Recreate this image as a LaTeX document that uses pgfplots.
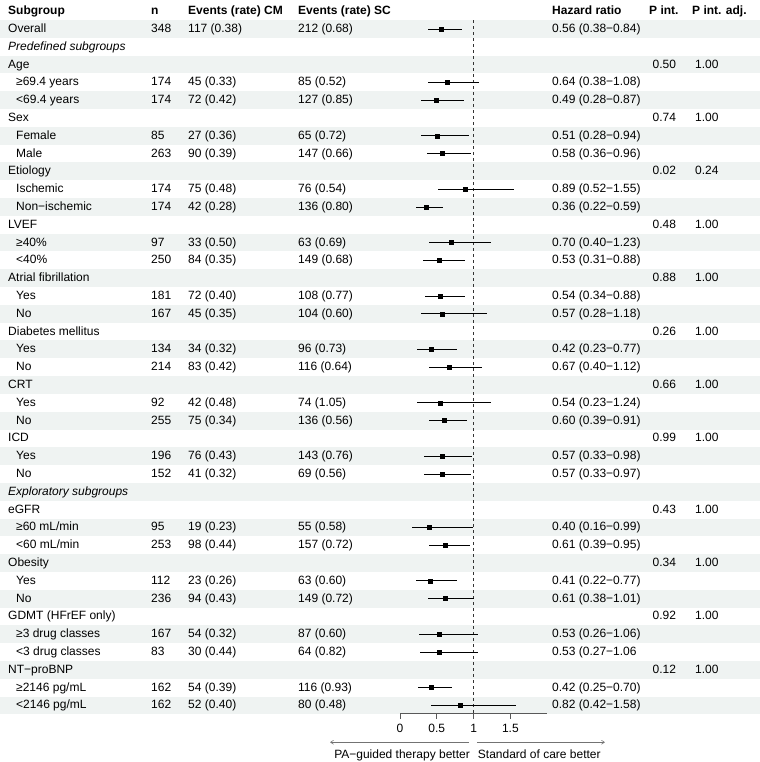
\documentclass[border=0pt]{standalone}
\usepackage{pgfplots}
\pgfplotsset{compat=1.18}
\usepackage{pgfplotstable}
\usepackage{fontspec}
\setmainfont{Liberation Sans}
\usetikzlibrary{arrows.meta}
\definecolor{bgc}{HTML}{EFF3F2}

\pgfplotstableread{
k hr lo hi
1 0.56 0.38 0.84
4 0.64 0.38 1.08
5 0.49 0.28 0.87
7 0.51 0.28 0.94
8 0.58 0.36 0.96
10 0.89 0.52 1.55
11 0.36 0.22 0.59
13 0.70 0.40 1.23
14 0.53 0.31 0.88
16 0.54 0.34 0.88
17 0.57 0.28 1.18
19 0.42 0.23 0.77
20 0.67 0.40 1.12
22 0.54 0.23 1.24
23 0.60 0.39 0.91
25 0.57 0.33 0.98
26 0.57 0.33 0.97
29 0.40 0.16 0.99
30 0.61 0.39 0.95
32 0.41 0.22 0.77
33 0.61 0.38 1.01
35 0.53 0.26 1.06
36 0.53 0.27 1.06
38 0.42 0.25 0.70
39 0.82 0.42 1.58
}\forestdata

\newcommand{\xS}{-5.326}
\newcommand{\xI}{-5.217}
\newcommand{\xN}{-3.383}
\newcommand{\xC}{-2.880}
\newcommand{\xSC}{-1.386}
\newcommand{\xH}{2.065}
\newcommand{\xPh}{3.383}
\newcommand{\xP}{3.431}
\newcommand{\xAh}{3.967}
\newcommand{\xA}{4.008}

\tikzset{txt/.style={anchor=base west, inner sep=0pt, font=\fontsize{12}{14}\selectfont, yshift=-3.5pt, text=black}}

% data row: k, label, n, cm, sc, hr
\newcommand{\drow}[6]{%
  \node[txt] at (axis cs:\xI,#1) {#2};%
  \node[txt] at (axis cs:\xN,#1) {#3};%
  \node[txt] at (axis cs:\xC,#1) {#4};%
  \node[txt] at (axis cs:\xSC,#1) {#5};%
  \node[txt] at (axis cs:\xH,#1) {#6};%
}
% group row: k, label, p, padj
\newcommand{\grow}[4]{%
  \node[txt] at (axis cs:\xS,#1) {#2};%
  \node[txt] at (axis cs:\xP,#1) {#3};%
  \node[txt] at (axis cs:\xA,#1) {#4};%
}

\begin{document}
\begin{tikzpicture}
\begin{axis}[
  scale only axis, width=760pt, height=762pt,
  xmin=-5.4348, xmax=4.8913, ymin=-0.629, ymax=42.18,
  y dir=reverse, hide axis, clip=false]

% row shading
\pgfplotsinvokeforeach{1,3,...,39}{%
  \fill[bgc] ([yshift=8.9pt]axis cs:-5.4348,#1) rectangle ([yshift=-8.9pt]axis cs:4.8913,#1);
}

% reference line
\draw[black!80, line width=0.75pt, dash pattern=on 3pt off 3pt] (axis cs:1,0.5) -- (axis cs:1,39.44);

% x axis
\draw[black!65, line width=0.75pt] (axis cs:0,39.44) -- (axis cs:2,39.44);
\pgfplotsinvokeforeach{0,0.5,1,1.5}{%
  \draw[black!65, line width=0.75pt] (axis cs:#1,39.44) -- ([yshift=-6pt]axis cs:#1,39.44);
  \node[anchor=base, inner sep=0pt, font=\fontsize{12}{14}\selectfont] at (axis cs:#1,40.55) {#1};
}

% arrows
\draw[black!55, line width=0.6pt, -{Straight Barb[length=3pt,width=4pt]}] (axis cs:0.9375,41.07) -- (axis cs:-0.951,41.07);
\draw[black!55, line width=0.6pt, -{Straight Barb[length=3pt,width=4pt]}] (axis cs:1.046,41.07) -- (axis cs:2.785,41.07);
\node[anchor=base east, inner sep=0pt, font=\fontsize{12}{14}\selectfont] at (axis cs:0.951,41.97) {PA−guided therapy better};
\node[anchor=base west, inner sep=0pt, font=\fontsize{12}{14}\selectfont] at (axis cs:1.056,41.97) {Standard of care better};

% CI and points
\addplot[only marks, mark=square*, mark size=2pt, black,
  error bars/.cd, x dir=both, x explicit, error mark=none,
  error bar style={line width=0.8pt, black}]
  table[x=hr, y=k, x error plus expr=\thisrow{hi}-\thisrow{hr}, x error minus expr=\thisrow{hr}-\thisrow{lo}] {\forestdata};

% header
\node[txt, font=\fontsize{12}{14}\selectfont\bfseries] at (axis cs:\xS,0) {Subgroup};
\node[txt, font=\fontsize{12}{14}\selectfont\bfseries] at (axis cs:\xN,0) {n};
\node[txt, font=\fontsize{12}{14}\selectfont\bfseries] at (axis cs:\xC,0) {Events (rate) CM};
\node[txt, font=\fontsize{12}{14}\selectfont\bfseries] at (axis cs:\xSC,0) {Events (rate) SC};
\node[txt, font=\fontsize{12}{14}\selectfont\bfseries] at (axis cs:\xH,0) {Hazard ratio};
\node[txt, font=\fontsize{12}{14}\selectfont\bfseries] at (axis cs:\xPh,0) {P int.};
\node[txt, font=\fontsize{12}{14}\selectfont\bfseries] at (axis cs:\xAh,0) {P int. adj.};

% overall
\node[txt] at (axis cs:\xS,1) {Overall};
\node[txt] at (axis cs:\xN,1) {348};
\node[txt] at (axis cs:\xC,1) {117 (0.38)};
\node[txt] at (axis cs:\xSC,1) {212 (0.68)};
\node[txt] at (axis cs:\xH,1) {0.56 (0.38−0.84)};

\node[txt, font=\fontsize{12}{14}\selectfont\itshape] at (axis cs:\xS,2) {Predefined subgroups};
\grow{3}{Age}{0.50}{1.00}
\drow{4}{≥69.4 years}{174}{45 (0.33)}{85 (0.52)}{0.64 (0.38−1.08)}
\drow{5}{<69.4 years}{174}{72 (0.42)}{127 (0.85)}{0.49 (0.28−0.87)}
\grow{6}{Sex}{0.74}{1.00}
\drow{7}{Female}{85}{27 (0.36)}{65 (0.72)}{0.51 (0.28−0.94)}
\drow{8}{Male}{263}{90 (0.39)}{147 (0.66)}{0.58 (0.36−0.96)}
\grow{9}{Etiology}{0.02}{0.24}
\drow{10}{Ischemic}{174}{75 (0.48)}{76 (0.54)}{0.89 (0.52−1.55)}
\drow{11}{Non−ischemic}{174}{42 (0.28)}{136 (0.80)}{0.36 (0.22−0.59)}
\grow{12}{LVEF}{0.48}{1.00}
\drow{13}{≥40\%}{97}{33 (0.50)}{63 (0.69)}{0.70 (0.40−1.23)}
\drow{14}{<40\%}{250}{84 (0.35)}{149 (0.68)}{0.53 (0.31−0.88)}
\grow{15}{Atrial fibrillation}{0.88}{1.00}
\drow{16}{Yes}{181}{72 (0.40)}{108 (0.77)}{0.54 (0.34−0.88)}
\drow{17}{No}{167}{45 (0.35)}{104 (0.60)}{0.57 (0.28−1.18)}
\grow{18}{Diabetes mellitus}{0.26}{1.00}
\drow{19}{Yes}{134}{34 (0.32)}{96 (0.73)}{0.42 (0.23−0.77)}
\drow{20}{No}{214}{83 (0.42)}{116 (0.64)}{0.67 (0.40−1.12)}
\grow{21}{CRT}{0.66}{1.00}
\drow{22}{Yes}{92}{42 (0.48)}{74 (1.05)}{0.54 (0.23−1.24)}
\drow{23}{No}{255}{75 (0.34)}{136 (0.56)}{0.60 (0.39−0.91)}
\grow{24}{ICD}{0.99}{1.00}
\drow{25}{Yes}{196}{76 (0.43)}{143 (0.76)}{0.57 (0.33−0.98)}
\drow{26}{No}{152}{41 (0.32)}{69 (0.56)}{0.57 (0.33−0.97)}
\node[txt, font=\fontsize{12}{14}\selectfont\itshape] at (axis cs:\xS,27) {Exploratory subgroups};
\grow{28}{eGFR}{0.43}{1.00}
\drow{29}{≥60 mL/min}{95}{19 (0.23)}{55 (0.58)}{0.40 (0.16−0.99)}
\drow{30}{<60 mL/min}{253}{98 (0.44)}{157 (0.72)}{0.61 (0.39−0.95)}
\grow{31}{Obesity}{0.34}{1.00}
\drow{32}{Yes}{112}{23 (0.26)}{63 (0.60)}{0.41 (0.22−0.77)}
\drow{33}{No}{236}{94 (0.43)}{149 (0.72)}{0.61 (0.38−1.01)}
\grow{34}{GDMT (HFrEF only)}{0.92}{1.00}
\drow{35}{≥3 drug classes}{167}{54 (0.32)}{87 (0.60)}{0.53 (0.26−1.06)}
\drow{36}{<3 drug classes}{83}{30 (0.44)}{64 (0.82)}{0.53 (0.27−1.06}
\grow{37}{NT−proBNP}{0.12}{1.00}
\drow{38}{≥2146 pg/mL}{162}{54 (0.39)}{116 (0.93)}{0.42 (0.25−0.70)}
\drow{39}{<2146 pg/mL}{162}{52 (0.40)}{80 (0.48)}{0.82 (0.42−1.58)}
\end{axis}
\pgfresetboundingbox
\path (current axis.south west) rectangle (current axis.north east);
\end{tikzpicture}
\end{document}
